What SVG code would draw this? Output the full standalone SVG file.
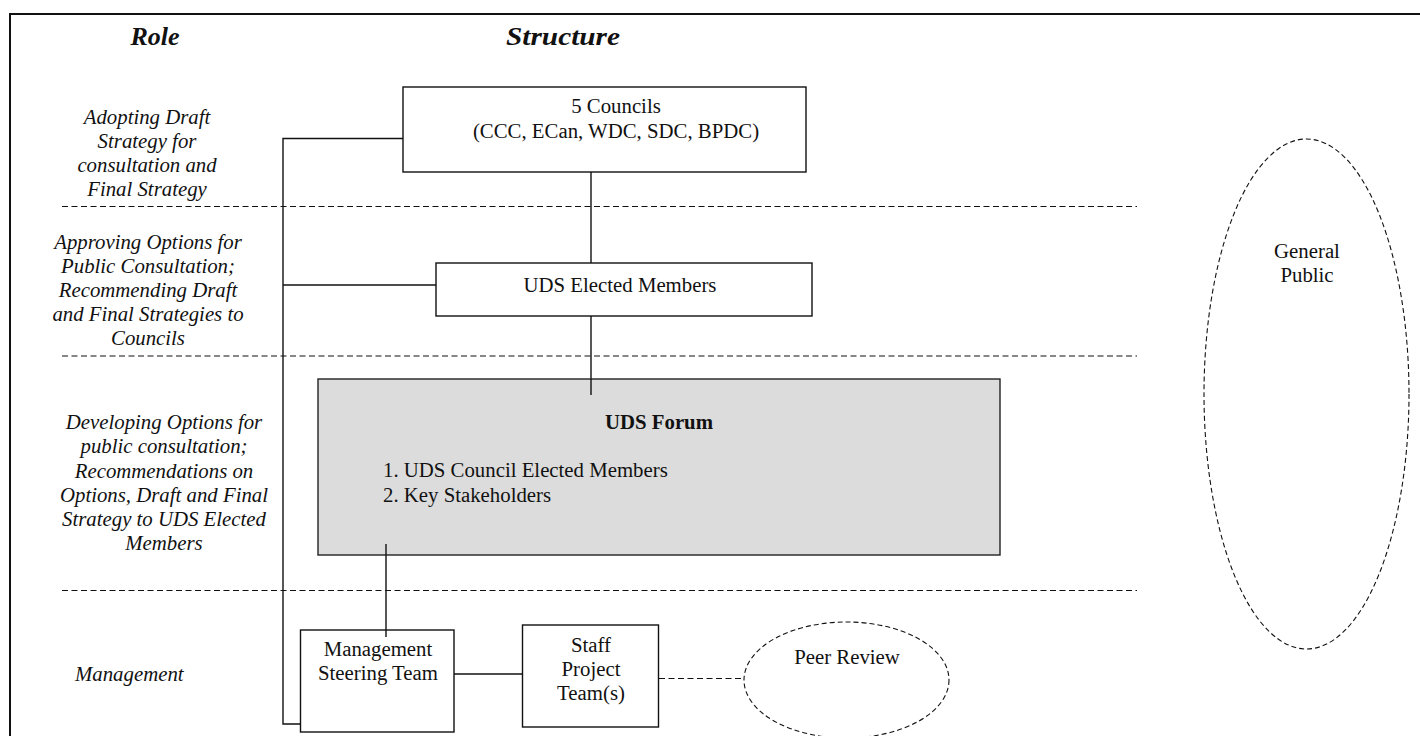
<svg xmlns="http://www.w3.org/2000/svg" width="1420" height="736" viewBox="0 0 1420 736">
<style>
text{font-family:"Liberation Serif","Times New Roman",serif;font-size:20.8px;fill:#111}
.hdr{font-size:26px;font-weight:bold;font-style:italic;text-anchor:middle}
.role{font-style:italic;text-anchor:middle}
.c{text-anchor:middle}
.box{fill:#fff;stroke:#111;stroke-width:1.4}
.line{stroke:#111;stroke-width:1.4;fill:none}
.dash{stroke:#111;stroke-width:1.2;stroke-dasharray:6 3.5;fill:none}
.ell{stroke:#111;stroke-width:1.1;stroke-dasharray:5 3;fill:none}
</style>
<rect x="0" y="0" width="1420" height="736" fill="#fff"/>
<rect x="10" y="14" width="1430" height="740" fill="none" stroke="#111" stroke-width="2"/>
<g id="headers">
<text class="hdr" x="155" y="45">Role</text>
<text class="hdr" x="563" y="45" textLength="114" lengthAdjust="spacingAndGlyphs">Structure</text>
</g>
<g id="roles">
<text class="role"><tspan x="147" y="124">Adopting Draft</tspan><tspan x="147" y="148">Strategy for</tspan><tspan x="147" y="172">consultation and</tspan><tspan x="147" y="196">Final Strategy</tspan></text>
<text class="role"><tspan x="148" y="249">Approving Options for</tspan><tspan x="148" y="273">Public Consultation;</tspan><tspan x="148" y="297">Recommending Draft</tspan><tspan x="148" y="321">and Final Strategies to</tspan><tspan x="148" y="345">Councils</tspan></text>
<text class="role"><tspan x="164" y="429">Developing Options for</tspan><tspan x="164" y="453">public consultation;</tspan><tspan x="164" y="477.5">Recommendations on</tspan><tspan x="164" y="502">Options, Draft and Final</tspan><tspan x="164" y="526">Strategy to UDS Elected</tspan><tspan x="164" y="550">Members</tspan></text>
<text x="75" y="681" font-style="italic">Management</text>
</g>
<g id="separators">
<line class="dash" x1="62" y1="206.5" x2="1137" y2="206.5"/>
<line class="dash" x1="62" y1="356" x2="1137" y2="356"/>
<line class="dash" x1="62" y1="590.5" x2="1137" y2="590.5"/>
</g>
<g id="connectors">
<polyline class="line" points="403,138.5 283,138.5 283,724 300,724"/>
<line class="line" x1="283" y1="285" x2="436" y2="285"/>
<line class="line" x1="591" y1="172" x2="591" y2="263"/>
<line class="line" x1="591" y1="316" x2="591" y2="395"/>
<line class="line" x1="386" y1="544" x2="386" y2="637"/>
<line class="line" x1="454" y1="674" x2="522.5" y2="674"/>
<line class="dash" x1="659" y1="678.5" x2="744" y2="678.5"/>
</g>
<g id="councils">
<rect class="box" x="403" y="87" width="403" height="85"/>
<text class="c"><tspan x="616" y="113">5 Councils</tspan><tspan x="616" y="138">(CCC, ECan, WDC, SDC, BPDC)</tspan></text>
</g>
<g id="elected">
<rect class="box" x="436" y="263" width="376" height="53"/>
<text class="c" x="620" y="292">UDS Elected Members</text>
</g>
<g id="forum">
<rect x="318" y="379" width="682" height="176" fill="#dcdcdc" stroke="#222" stroke-width="1.4"/>
<line class="line" x1="591" y1="379" x2="591" y2="395"/>
<line class="line" x1="386" y1="544" x2="386" y2="555"/>
<text class="c" x="659" y="429" font-weight="bold">UDS Forum</text>
<text x="383" y="477">1. UDS Council Elected Members</text>
<text x="383" y="502">2. Key Stakeholders</text>
</g>
<g id="management">
<rect class="box" x="300.5" y="630" width="153.5" height="102"/>
<line class="line" x1="386" y1="630" x2="386" y2="637"/>
<text class="c"><tspan x="378" y="656">Management</tspan><tspan x="378" y="680">Steering Team</tspan></text>
</g>
<g id="staff">
<rect class="box" x="522.5" y="625" width="136" height="102"/>
<text class="c"><tspan x="591" y="652">Staff</tspan><tspan x="591" y="676">Project</tspan><tspan x="591" y="700">Team(s)</tspan></text>
</g>
<g id="peer">
<ellipse class="ell" cx="846.5" cy="680" rx="102.5" ry="58"/>
<text class="c" x="847" y="664">Peer Review</text>
</g>
<g id="public">
<ellipse class="ell" cx="1306.5" cy="394" rx="102.5" ry="255"/>
<text class="c"><tspan x="1307" y="258">General</tspan><tspan x="1307" y="282">Public</tspan></text>
</g>
</svg>
